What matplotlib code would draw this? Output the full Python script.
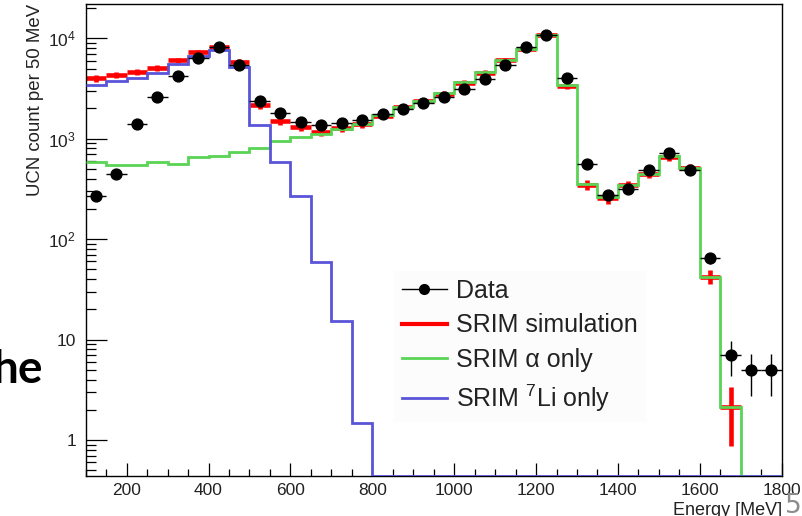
import numpy as np
import matplotlib
matplotlib.use("Agg")
import matplotlib.pyplot as plt
from matplotlib.lines import Line2D
from matplotlib.ticker import MultipleLocator, LogLocator, FuncFormatter, NullFormatter

plt.rcParams['font.family'] = ['Liberation Sans', 'DejaVu Sans']
plt.rcParams['mathtext.fontset'] = 'custom'
plt.rcParams['mathtext.rm'] = 'Liberation Sans'
plt.rcParams['mathtext.it'] = 'Liberation Sans:italic'

# ---------- Data (50 MeV bins, 100 - 1800 MeV) ----------

bin_edges = np.arange(100, 1801, 50)
bin_centers = bin_edges[:-1] + 25

data = [272, 443, 1394, 2624, 4245, 6320, 8130, 5420, 2393, 1800,
        1475, 1355, 1450, 1545, 1780, 1966, 2256, 2624, 3110, 3908,
        5420, 8130, 10790, 4000, 557, 276, 316, 488, 716, 490,
        65, 7, 5, 5]

srim_sim = [4000, 4310, 4630, 5110, 6050, 7300, 8280, 5800, 2170, 1500,
            1318, 1177, 1271, 1410, 1700, 2050, 2378, 2790, 3620, 4520,
            6080, 7780, 10850, 3350, 350, 258, 343, 448, 660, 508,
            42.4, 2.13, 0, 0]

srim_sim_err = [300, 300, 320, 340, 380, 430, 470, 380, 180, 130,
                120, 110, 115, 120, 135, 155, 170, 190, 230, 270,
                330, 400, 500, 210, 40, 32, 38, 45, 58, 48,
                7, 1.25, 0, 0]

srim_alpha = [583, 548, 548, 583, 565, 659, 675, 735, 810, 951,
              1049, 1115, 1260, 1400, 1710, 2060, 2378, 2838, 3640, 4590,
              6080, 7780, 10900, 3400, 352, 260, 345, 450, 675, 512,
              42.4, 2.13, 0, 0]

srim_li7 = [3428, 3758, 4055, 4550, 5550, 6714, 7656, 5143, 1372, 592,
            270, 59.8, 15.4, 1.47, 0, 0, 0, 0, 0, 0,
            0, 0, 0, 0, 0, 0, 0, 0, 0, 0,
            0, 0, 0, 0]

# ---------- Plot ----------

ymin, ymax = 0.4385, 2.18e4

fig = plt.figure(figsize=(8.02, 5.16), dpi=100)
ax = fig.add_axes([0.1069, 0.0775, 0.8678, 0.9142])

sim = np.array(srim_sim)
has_sim = sim > 0
ax.errorbar(bin_centers[has_sim], sim[has_sim], xerr=25,
            yerr=np.array(srim_sim_err)[has_sim], fmt='none',
            ecolor='#ff0000', elinewidth=3.3, capsize=0, zorder=2)

# empty bins are drawn on the lower frame, like ROOT does
ax.stairs(np.maximum(srim_alpha, ymin), bin_edges, baseline=None,
          color='#59d454', lw=2.0, zorder=3)
ax.stairs(np.maximum(srim_li7, ymin), bin_edges, baseline=None,
          color='#5954d8', lw=2.0, zorder=4)

ax.errorbar(bin_centers, data, xerr=25, yerr=np.sqrt(data), fmt='o',
            color='black', ms=7.8, elinewidth=1.0, capsize=0, zorder=5)

ax.set_yscale('log')
ax.set_xlim(100, 1800)
ax.set_ylim(ymin, ymax)

ax.xaxis.set_major_locator(MultipleLocator(200))
ax.xaxis.set_minor_locator(MultipleLocator(50))
ax.yaxis.set_major_locator(LogLocator(base=10))
ax.yaxis.set_minor_locator(LogLocator(base=10, subs=np.arange(2, 10)))
ax.yaxis.set_minor_formatter(NullFormatter())


def log_label(v, pos):
    n = int(round(np.log10(v)))
    if n == 0:
        return '1'
    if n == 1:
        return '10'
    return r'$10^{%d}$' % n


ax.yaxis.set_major_formatter(FuncFormatter(log_label))

ax.tick_params(axis='both', which='both', direction='in', top=False,
               right=False, width=0.9, colors='black', labelcolor='#222222',
               labelsize=12.5)
ax.tick_params(axis='y', which='major', length=15, pad=7)
ax.tick_params(axis='y', which='minor', length=7.5)
ax.tick_params(axis='x', which='major', length=9.5, pad=5)
ax.tick_params(axis='x', which='minor', length=4.7)
for sp in ax.spines.values():
    sp.set_linewidth(1.0)

ax.set_xlabel('Energy [MeV]', loc='right', fontsize=13, color='#222222')
ax.xaxis.set_label_coords(1.0, -0.055)
ax.set_ylabel('UCN count per 50 MeV', loc='top', fontsize=13.4, color='#222222')
ax.yaxis.set_label_coords(-0.06, 1.0)

handles = [
    Line2D([], [], color='black', marker='o', ms=7, lw=1.0),
    Line2D([], [], color='#ff0000', lw=3.0),
    Line2D([], [], color='#59d454', lw=2.0),
    Line2D([], [], color='#5954d8', lw=2.0),
]
labels = ['Data', 'SRIM simulation', 'SRIM \u03b1 only', r'SRIM $^{7}$Li only']
leg = ax.legend(handles, labels, loc='upper left',
                bbox_to_anchor=(394 / 802, 1 - 271 / 516),
                bbox_transform=fig.transFigure, borderaxespad=0,
                borderpad=0.3, handlelength=1.8, handletextpad=0.4,
                labelspacing=0.43, fontsize=18, frameon=True,
                fancybox=False, facecolor='#fcfcfc', edgecolor='none',
                framealpha=1)
for t in leg.get_texts():
    t.set_color('#222222')

# bits of the surrounding slide
fig.text(43 / 802, 1 - 383 / 516, 'he', ha='right', va='baseline',
         fontsize=33, fontweight='bold', family=['Lato', 'DejaVu Sans'])
fig.text(785 / 802, 3 / 516, '5', ha='left', va='baseline', fontsize=19,
         color='#8c8c8c', family=['DejaVu Sans'])

fig.savefig('out.png', dpi=100)
